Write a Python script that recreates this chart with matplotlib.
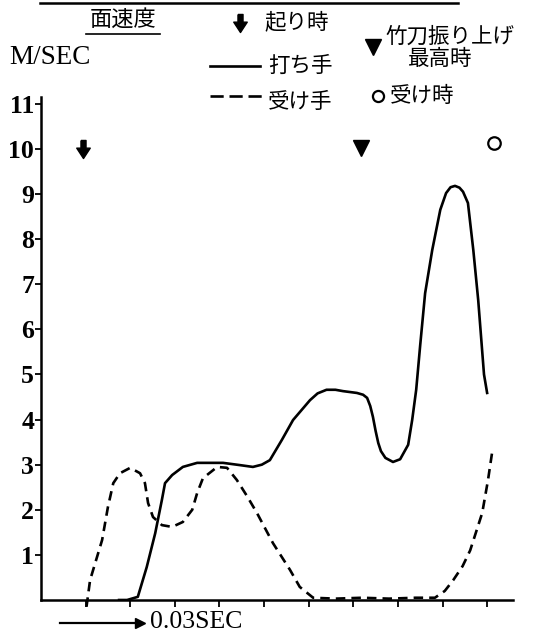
import matplotlib
matplotlib.use('Agg')
import matplotlib.pyplot as plt
from matplotlib.lines import Line2D

# 打ち手 (striker) face speed, M/SEC vs time (units of 0.03 SEC)
uchite_t = [1.75, 1.93, 2.17, 2.37, 2.56, 2.71, 2.78, 2.94, 3.18, 3.5, 4.08, 4.46, 4.75,
            4.95, 5.13, 5.4, 5.65, 6.03, 6.2, 6.4, 6.6, 6.77, 7.08, 7.22, 7.31, 7.38,
            7.44, 7.5, 7.56, 7.62, 7.72, 7.89, 8.05, 8.23, 8.32, 8.41, 8.5, 8.61, 8.77,
            8.95, 9.08, 9.18, 9.28, 9.38, 9.46, 9.57, 9.69, 9.8, 9.93, 10.0]
uchite_v = [0.0, 0.0, 0.07, 0.73, 1.48, 2.22, 2.59, 2.77, 2.95, 3.04, 3.04, 2.99, 2.95,
            3.0, 3.1, 3.55, 3.99, 4.43, 4.58, 4.66, 4.66, 4.63, 4.59, 4.55, 4.48, 4.3,
            4.06, 3.75, 3.48, 3.3, 3.15, 3.06, 3.12, 3.44, 3.99, 4.66, 5.65, 6.8, 7.76,
            8.65, 9.02, 9.15, 9.18, 9.14, 9.05, 8.8, 7.76, 6.65, 5.0, 4.59]

# 受け手 (receiver) face speed
ukete_t = [1.02, 1.1, 1.37, 1.5, 1.62, 1.77, 2.0, 2.22, 2.33, 2.4, 2.51, 2.71, 2.94,
           3.18, 3.39, 3.5, 3.63, 3.95, 4.17, 4.39, 4.62, 4.84, 5.2, 5.58, 5.8, 6.1,
           6.6, 7.2, 7.8, 8.4, 8.83, 9.05, 9.24, 9.45, 9.62, 9.89, 10.02, 10.11]
ukete_v = [-0.15, 0.44, 1.33, 2.06, 2.59, 2.81, 2.93, 2.81, 2.59, 2.15, 1.84, 1.66, 1.62,
           1.73, 2.0, 2.37, 2.7, 2.95, 2.93, 2.66, 2.3, 1.93, 1.26, 0.67, 0.29, 0.05,
           0.03, 0.05, 0.03, 0.05, 0.05, 0.2, 0.44, 0.75, 1.1, 1.93, 2.66, 3.26]

# event markers
okori = (0.94, 10.0)       # 起り時
furiage = (7.17, 10.02)    # 竹刀振り上げ最高時
uke = (10.16, 10.13)       # 受け時

y_ticks = list(range(1, 12))
x_ticks = list(range(1, 11))

W, H = 537, 637
serif = 'Liberation Serif'
jp = 'Noto Sans CJK JP'


def fx(px):
    return px / W


def fy(py):
    return 1 - py / H


arrow_marker = [(-0.28, 1.0), (0.28, 1.0), (0.28, 0.15), (0.75, 0.15), (0.0, -1.0),
                (-0.75, 0.15), (-0.28, 0.15), (-0.28, 1.0)]
dash = (0, (3.6, 2.3))

fig = plt.figure(figsize=(W / 100, H / 100), dpi=100)
ax = fig.add_axes([fx(41), fy(600), fx(513) - fx(41), fy(97) - fy(600)])

ax.plot(uchite_t, uchite_v, color='black', lw=1.9, solid_joinstyle='round')
ax.plot(ukete_t, ukete_v, color='black', lw=1.9, linestyle=dash, clip_on=False)

ax.plot([okori[0]], [okori[1]], marker=arrow_marker, color='black', ms=13, ls='none')
ax.plot([furiage[0]], [furiage[1]], marker='v', color='black', ms=11, ls='none')
ax.plot([uke[0]], [uke[1]], marker='o', mfc='white', mec='black', mew=1.6, ms=9, ls='none')

ax.set_xlim(0, 10.58)
ax.set_ylim(0, 11.15)
ax.set_xticks(x_ticks)
ax.set_xticklabels([])
ax.set_yticks(y_ticks)
ax.set_yticklabels([str(v) for v in y_ticks], fontfamily=serif, fontsize=18.5,
                   fontweight='bold')
ax.tick_params(axis='y', direction='out', length=4, width=1.3, pad=1)
ax.tick_params(axis='x', direction='out', length=5, width=1.3)
for s in ['top', 'right']:
    ax.spines[s].set_visible(False)
for s in ['left', 'bottom']:
    ax.spines[s].set_linewidth(1.8)

# top rule
fig.add_artist(Line2D([fx(40), fx(458)], [fy(3), fy(3)], color='black', lw=1.8))

# title and units
fig.text(fx(123), fy(19), '面速度', family=jp, fontsize=16, ha='center', va='center')
fig.add_artist(Line2D([fx(86), fx(160)], [fy(34), fy(34)], color='black', lw=1.2))
fig.text(fx(9), fy(57), 'M/SEC', family=serif, fontsize=19.5, ha='left', va='center')

# legend
fig.add_artist(Line2D([fx(240)], [fy(23)], marker=arrow_marker, color='black', ms=13, ls='none'))
fig.text(fx(264), fy(22), '起り時', family=jp, fontsize=15.5, ha='left', va='center')
fig.add_artist(Line2D([fx(210), fx(260)], [fy(66), fy(66)], color='black', lw=1.9))
fig.text(fx(268), fy(66), '打ち手', family=jp, fontsize=15.5, ha='left', va='center')
fig.add_artist(Line2D([fx(210), fx(262)], [fy(96), fy(96)], color='black', lw=1.9,
                      linestyle=(0, (5, 2.2))))
fig.text(fx(268), fy(102), '受け手', family=jp, fontsize=15.5, ha='left', va='center')
fig.add_artist(Line2D([fx(373)], [fy(47)], marker='v', color='black', ms=11, ls='none'))
fig.text(fx(385), fy(37), '竹刀振り上げ', family=jp, fontsize=15.5, ha='left', va='center')
fig.text(fx(440), fy(59), '最高時', family=jp, fontsize=15.5, ha='center', va='center')
fig.add_artist(Line2D([fx(378)], [fy(96)], marker='o', mfc='white', mec='black', mew=1.6,
                      ms=8, ls='none'))
fig.text(fx(390), fy(96), '受け時', family=jp, fontsize=15.5, ha='left', va='center')

# time scale note
fig.add_artist(Line2D([fx(60), fx(140)], [fy(623), fy(623)], color='black', lw=1.6,
                      marker='>', markevery=[1], ms=7))
fig.text(fx(150), fy(622), '0.03SEC', family=serif, fontsize=18.5, ha='left', va='center')

fig.savefig('out.png', dpi=100)
